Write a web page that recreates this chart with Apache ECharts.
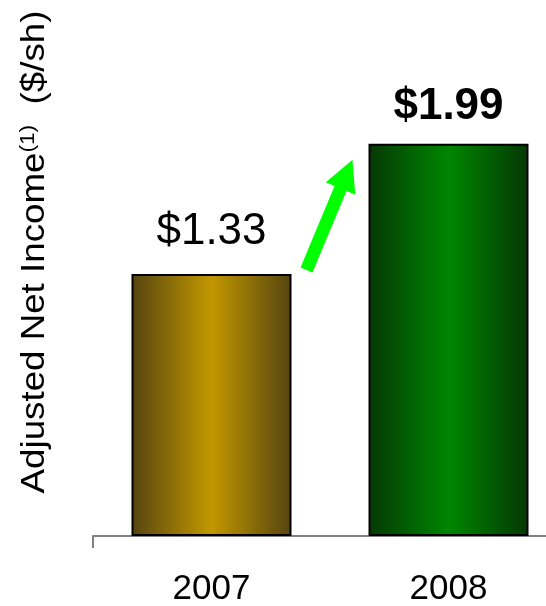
<!DOCTYPE html>
<html>
<head>
<meta charset="utf-8">
<script src="https://cdn.jsdelivr.net/npm/echarts@6/dist/echarts.min.js"></script>
<style>html,body{margin:0;padding:0;background:#fff;}#c{width:546px;height:606px;}</style>
</head>
<body>
<div id="c"></div>
<script>
var categories = ['2007', '2008'];
var values = [1.33, 1.99];
var valueLabels = ['$1.33', '$1.99'];
var labelWeights = ['normal', 'bold'];
var labelDistances = [20, 15];
var barColors = [
  ['#554410', '#c29800', '#554410'],
  ['#053805', '#008600', '#053805']
];

var chart = echarts.init(document.getElementById('c'), null, {renderer: 'canvas'});
var FONT = '"Liberation Sans", Arial, sans-serif';

function grad(c) {
  return new echarts.graphic.LinearGradient(0, 0, 1, 0, [
    {offset: 0, color: c[0]}, {offset: 0.5, color: c[1]}, {offset: 1, color: c[2]}
  ]);
}

var data = values.map(function (v, i) {
  return {
    value: v,
    itemStyle: {color: grad(barColors[i]), borderColor: '#000', borderWidth: 2},
    label: {
      show: true, position: 'top', distance: labelDistances[i],
      formatter: valueLabels[i], fontSize: 44, fontWeight: labelWeights[i],
      color: '#000', fontFamily: FONT
    }
  };
});

chart.setOption({
  animation: false,
  grid: {left: 93, top: 0, width: 474, height: 536, containLabel: false, outerBoundsMode: 'none'},
  xAxis: {
    type: 'category', data: categories, boundaryGap: true,
    axisLine: {show: true, lineStyle: {color: '#808080', width: 2}},
    axisTick: {show: true, length: 12, lineStyle: {color: '#808080', width: 2},
      interval: function (index) { return index === 0; }},
    axisLabel: {fontSize: 35, color: '#000', margin: 36, fontFamily: FONT}
  },
  yAxis: {
    type: 'value', min: 0, max: 2.72, show: false, splitLine: {show: false}
  },
  series: [{type: 'bar', data: data, barWidth: 160}]
});

function drawOverlay() {
  var p1 = chart.convertToPixel({seriesIndex: 0}, [0, values[0]]);
  var p2 = chart.convertToPixel({seriesIndex: 0}, [1, values[1]]);
  var half = 80;
  var tail = [p1[0] + half + 15, p1[1] - 4];
  var tip = [p2[0] - half - 16, p2[1] + 16];
  var dx = tip[0] - tail[0], dy = tip[1] - tail[1];
  var L = Math.sqrt(dx * dx + dy * dy);
  var ux = dx / L, uy = dy / L, nx = -uy, ny = ux;
  var headLen = 31, headW = 16, shaftW = 6.5;
  var bx = tip[0] - ux * headLen, by = tip[1] - uy * headLen;
  var pts = [
    [tail[0] + nx * shaftW, tail[1] + ny * shaftW],
    [bx + nx * shaftW, by + ny * shaftW],
    [bx + nx * headW, by + ny * headW],
    tip,
    [bx - nx * headW, by - ny * headW],
    [bx - nx * shaftW, by - ny * shaftW],
    [tail[0] - nx * shaftW, tail[1] - ny * shaftW]
  ];
  chart.setOption({
    graphic: [
      {type: 'polygon', shape: {points: pts}, style: {fill: '#00ff00'}, z: 10},
      {
        type: 'text', x: 34.5, y: 252, rotation: Math.PI / 2, scaleX: 1.08, z: 10,
        style: {
          text: '{m|Adjusted Net Income}{s|(1)}{m|  ($/sh)}',
          align: 'center', verticalAlign: 'middle', fill: '#000',
          rich: {
            m: {fontSize: 34, fontFamily: FONT, fill: '#000'},
            s: {fontSize: 21, fontFamily: FONT, fill: '#000', verticalAlign: 'top', padding: [0, 0, 12, 0]}
          }
        }
      }
    ]
  });
}
drawOverlay();
</script>
</body>
</html>
